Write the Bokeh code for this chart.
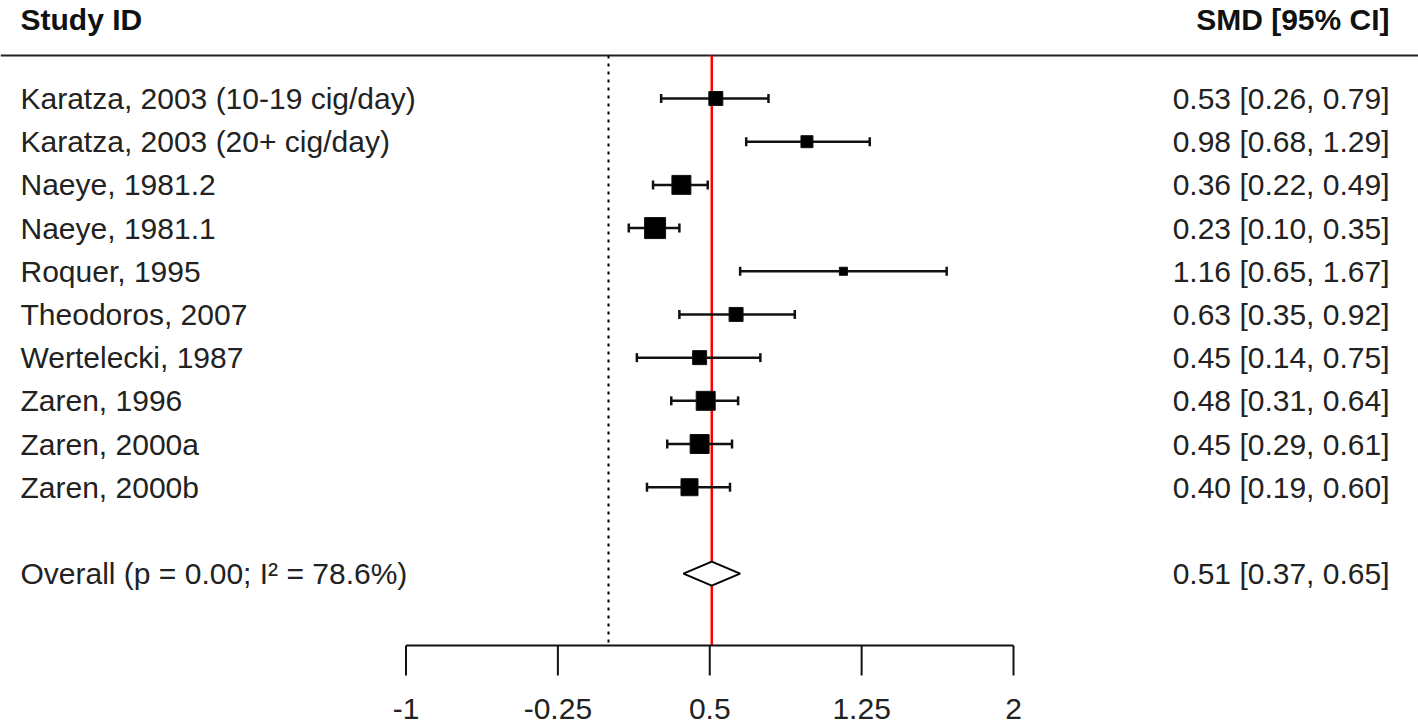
from bokeh.plotting import figure
from bokeh.models import Range1d, ColumnDataSource
from bokeh.core.properties import value
from bokeh.embed import file_html
from bokeh.resources import INLINE
import math

# ---------------- data ----------------
studies = ["Karatza, 2003 (10-19 cig/day)", "Karatza, 2003 (20+ cig/day)",
           "Naeye, 1981.2", "Naeye, 1981.1", "Roquer, 1995", "Theodoros, 2007",
           "Wertelecki, 1987", "Zaren, 1996", "Zaren, 2000a", "Zaren, 2000b"]
smd = [0.53, 0.98, 0.36, 0.23, 1.16, 0.63, 0.45, 0.48, 0.45, 0.40]
ci_low = [0.26, 0.68, 0.22, 0.10, 0.65, 0.35, 0.14, 0.31, 0.29, 0.19]
ci_high = [0.79, 1.29, 0.49, 0.35, 1.67, 0.92, 0.75, 0.64, 0.61, 0.60]
weights = [7.5, 5.5, 13.8, 16.9, 2.5, 7.5, 7.5, 13.8, 13.8, 11.1]  # estimated, %

overall_label = "Overall (p = 0.00; I\u00b2 = 78.6%)"
overall_est = 0.51
overall_low = 0.37
overall_high = 0.65

tick_values = [-1, -0.25, 0.5, 1.25, 2]
tick_labels = ["-1", "-0.25", "0.5", "1.25", "2"]

header_left = "Study ID"
header_right = "SMD [95% CI]"

# ---------------- layout ----------------
W, H = 1418, 726
PX_PER_UNIT = 202.5
X0_PX = 608.0           # canvas x of SMD = 0
ROW0_PX = 98.0          # canvas y of first row
ROW_PX = 43.19          # pixels per row
FONT = value("Liberation Sans")
FS = "30px"

def xv(px):
    return (px - X0_PX) / PX_PER_UNIT

def yr(px):
    return (px - ROW0_PX) / ROW_PX

X_LEFT, X_RIGHT = xv(0), xv(W)
Y_TOP, Y_BOTTOM = yr(0), yr(H)
LABEL_X = xv(20)
VALUE_X = xv(1389)
HEADER_Y = yr(19)
RULE_Y = yr(55)
AXIS_Y = yr(645)
TICK_END_Y = yr(675)
TICKLABEL_Y = yr(708)
OVERALL_ROW = 11
CAP = 4.5 / ROW_PX
DIAMOND_HALF = 12 / ROW_PX

p = figure(width=W, height=H, output_backend="svg", toolbar_location=None,
           x_range=Range1d(X_LEFT, X_RIGHT), y_range=Range1d(Y_BOTTOM, Y_TOP),
           min_border=0, tools="")
p.axis.visible = False
p.grid.visible = False
p.outline_line_color = None
p.background_fill_color = "white"
p.border_fill_color = "white"

rows = list(range(len(studies)))

# header rule
p.segment(x0=[X_LEFT], x1=[X_RIGHT], y0=[RULE_Y], y1=[RULE_Y],
          line_color="#222222", line_width=2)

# null line (dotted) and overall line (red)
p.segment(x0=[0], x1=[0], y0=[RULE_Y], y1=[AXIS_Y],
          line_color="black", line_width=2, line_dash="3 5")
p.segment(x0=[overall_est], x1=[overall_est], y0=[RULE_Y], y1=[AXIS_Y],
          line_color="#ff0000", line_width=2.5)

# CIs
src = ColumnDataSource(dict(
    y=rows, est=smd, lo=ci_low, hi=ci_high,
    ylo=[r - CAP for r in rows], yhi=[r + CAP for r in rows],
    size=[21 * math.sqrt(w / max(weights)) for w in weights],
    name=studies,
    txt=[f"{e:.2f} [{l:.2f}, {h:.2f}]" for e, l, h in zip(smd, ci_low, ci_high)],
))
p.segment(x0="lo", x1="hi", y0="y", y1="y", source=src,
          line_color="#111111", line_width=2.5)
p.segment(x0="lo", x1="lo", y0="ylo", y1="yhi", source=src,
          line_color="#111111", line_width=2.5)
p.segment(x0="hi", x1="hi", y0="ylo", y1="yhi", source=src,
          line_color="#111111", line_width=2.5)
p.scatter(x="est", y="y", size="size", marker="square", source=src,
          fill_color="black", line_color="#111111", line_width=1)

# overall diamond
p.patch(x=[overall_low, overall_est, overall_high, overall_est],
        y=[OVERALL_ROW, OVERALL_ROW - DIAMOND_HALF, OVERALL_ROW,
           OVERALL_ROW + DIAMOND_HALF],
        fill_color="white", line_color="black", line_width=2)

# labels
p.text(x=LABEL_X, y="y", text="name", source=src, text_font=FONT,
       text_font_size=FS, text_align="left", text_baseline="middle",
       text_color="#222222")
p.text(x=VALUE_X, y="y", text="txt", source=src, text_font=FONT,
       text_font_size=FS, text_align="right", text_baseline="middle",
       text_color="#222222")
p.text(x=[LABEL_X], y=[OVERALL_ROW], text=[overall_label], text_font=FONT,
       text_font_size=FS, text_align="left", text_baseline="middle",
       text_color="#222222")
p.text(x=[VALUE_X], y=[OVERALL_ROW],
       text=[f"{overall_est:.2f} [{overall_low:.2f}, {overall_high:.2f}]"],
       text_font=FONT, text_font_size=FS, text_align="right",
       text_baseline="middle", text_color="#222222")

# headers
p.text(x=[LABEL_X], y=[HEADER_Y], text=[header_left], text_font=FONT,
       text_font_size=FS, text_font_style="bold", text_align="left",
       text_baseline="middle", text_color="#111111")
p.text(x=[VALUE_X], y=[HEADER_Y], text=[header_right], text_font=FONT,
       text_font_size=FS, text_font_style="bold", text_align="right",
       text_baseline="middle", text_color="#111111")

# x axis
p.segment(x0=[tick_values[0]], x1=[tick_values[-1]], y0=[AXIS_Y], y1=[AXIS_Y],
          line_color="#111111", line_width=2)
p.segment(x0=tick_values, x1=tick_values, y0=[AXIS_Y] * len(tick_values),
          y1=[TICK_END_Y] * len(tick_values), line_color="#111111", line_width=2)
p.text(x=tick_values, y=[TICKLABEL_Y] * len(tick_values), text=tick_labels,
       text_font=FONT, text_font_size=FS, text_align="center",
       text_baseline="middle", text_color="#222222")

open("out.html", "w").write(file_html(p, INLINE))
